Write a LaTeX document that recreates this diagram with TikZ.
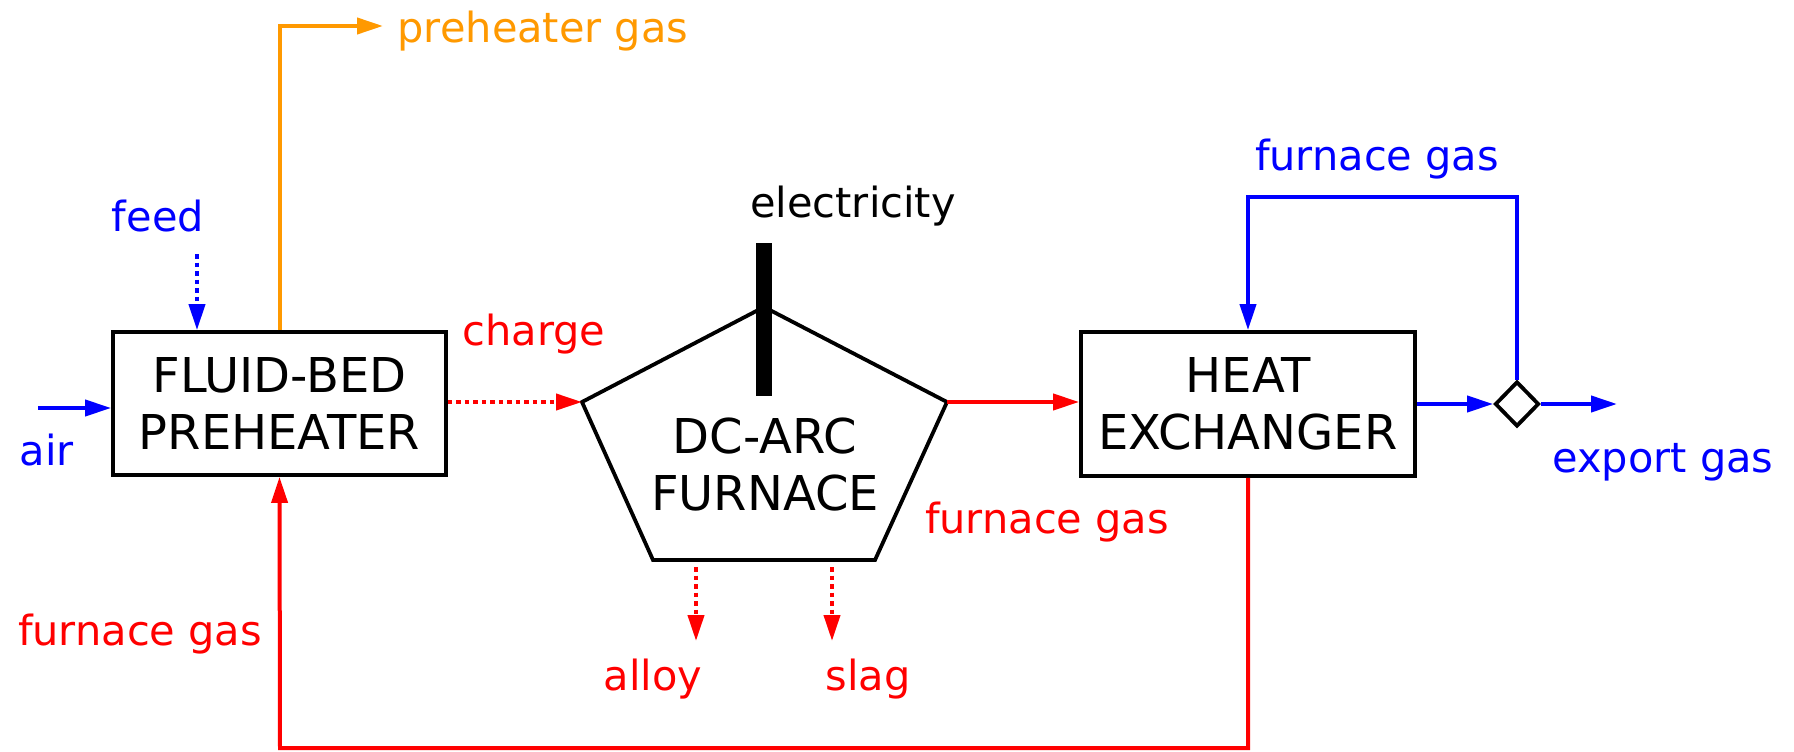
\documentclass[tikz,border=0pt]{standalone}
\usepackage{fontspec}
\setmainfont{DejaVu Sans}
\usetikzlibrary{arrows.meta,shapes.geometric}
\definecolor{orng}{RGB}{255,153,0}
\definecolor{rd}{RGB}{255,0,0}
\definecolor{bl}{RGB}{0,0,255}
\begin{document}
\begin{tikzpicture}[x=1pt,y=-1pt,
  lbl/.style={font=\fontsize{41.5}{50}\selectfont, inner sep=0pt, anchor=base},
  unit/.style={draw, line width=3.8pt, font=\fontsize{48}{57}\selectfont, align=center, inner sep=0pt},
  flow/.style={line width=4pt, -{Triangle[length=26pt,width=16pt]}},
  dots/.style={dash pattern=on 4.5pt off 4pt}]
\useasboundingbox (0,0) rectangle (1794,752);

% units
\node[unit, minimum width=333pt, minimum height=143pt] (pre) at (279.5,403.5) {FLUID-BED\\PREHEATER};
\node[unit, minimum width=334pt, minimum height=144pt] (hx) at (1248,404) {HEAT\\EXCHANGER};

% furnace pentagon
\coordinate (fL) at (582,402);
\coordinate (fT) at (764,307);
\coordinate (fR) at (947,402);
\coordinate (fBR) at (875,560);
\coordinate (fBL) at (653,560);
\draw[line width=3.8pt, line join=miter] (fL) -- (fT) -- (fR) -- (fBR) -- (fBL) -- cycle;
\node[font=\fontsize{48}{57}\selectfont, align=center, inner sep=0pt] (furn) at (765,465) {DC-ARC\\FURNACE};
\fill (756,243) rectangle (772,396);

% splitter
\node[draw, diamond, line width=3.8pt, minimum width=44pt, minimum height=45pt, inner sep=0pt] (dia) at (1517,404) {};

% labels
\node[lbl, text=orng] (lpg) at (543,43) {preheater gas};
\node[lbl, text=bl] (lfeed) at (158,231) {feed};
\node[lbl, text=bl] (lair) at (47,465) {air};
\node[lbl, text=rd] (lcharge) at (534,345) {charge};
\node[lbl] (lelec) at (853,217) {electricity};
\node[lbl, text=bl] (lfg) at (1377,170) {furnace gas};
\node[lbl, text=bl] (lexp) at (1663,472) {export gas};
\node[lbl, text=rd] (lfgr) at (1047,533) {furnace gas};
\node[lbl, text=rd] (lfgl) at (140,645) {furnace gas};
\node[lbl, text=rd] (lalloy) at (653,690) {alloy};
\node[lbl, text=rd] (lslag) at (868,690) {slag};

% free ends
\coordinate (pgend) at (383,26);
\coordinate (feedstart) at (197,254);
\coordinate (airstart) at (38,408);
\coordinate (alloyS) at (696,567);
\coordinate (alloyE) at (696,641);
\coordinate (slagS) at (832,567);
\coordinate (slagE) at (832,641);
\coordinate (loop) at (1248,197);
\coordinate (expend) at (1617,404);
\coordinate (bot) at (280,748);

% connectors
\draw[flow, orng] (pre.north) |- (pgend);
\draw[flow, bl, dots] (feedstart) -- (feedstart |- pre.north);
\draw[flow, bl] (airstart) -- (pre.west |- airstart);
\draw[flow, rd, dots] (pre.east |- fL) -- (fL);
\draw[flow, rd] (fR) -- (hx.west |- fR);
\draw[flow, rd, dots] (alloyS) -- (alloyE);
\draw[flow, rd, dots] (slagS) -- (slagE);
\draw[flow, bl] (hx.east |- dia.west) -- (dia.west);
\draw[flow, bl] (dia.east) -- (expend);
\draw[flow, bl] (dia.north) |- (loop) -- (hx.north);
\draw[flow, rd] (hx.south) |- (bot) -- (pre.south);
\end{tikzpicture}
\end{document}
